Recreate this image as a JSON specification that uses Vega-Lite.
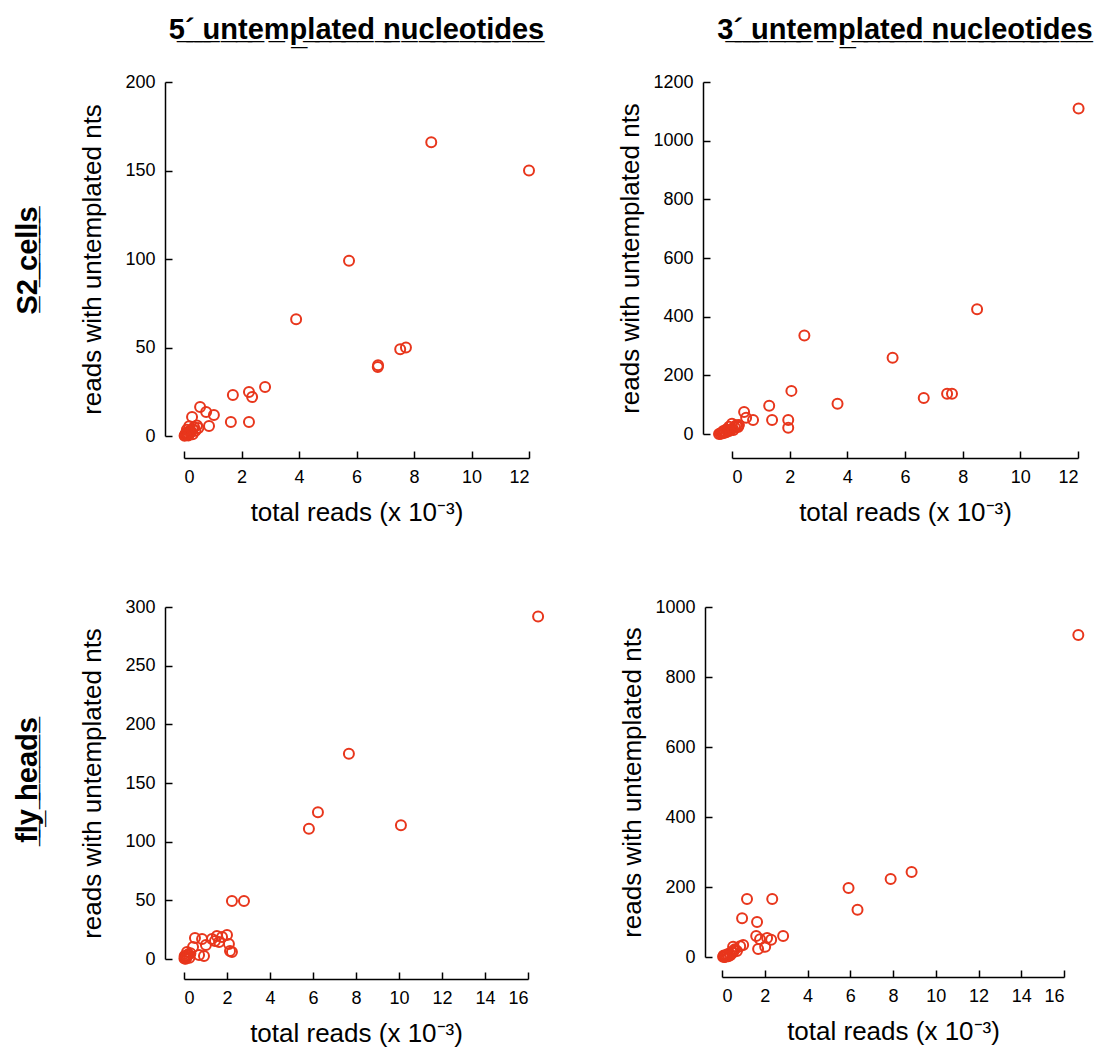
{
  "$schema": "https://vega.github.io/schema/vega-lite/v6.json",
  "background": "white",
  "padding": {"left": 14, "top": 16, "right": 5, "bottom": 5},
  "datasets": {
    "s2_5p": [
      {"total": 12.0, "untemplated": 150},
      {"total": 8.6, "untemplated": 166},
      {"total": 5.74, "untemplated": 99},
      {"total": 3.9, "untemplated": 66},
      {"total": 7.52, "untemplated": 49},
      {"total": 7.72, "untemplated": 50},
      {"total": 6.75, "untemplated": 40},
      {"total": 6.74, "untemplated": 39},
      {"total": 2.82, "untemplated": 27.7},
      {"total": 1.7, "untemplated": 23.2},
      {"total": 2.26, "untemplated": 24.9},
      {"total": 2.37, "untemplated": 22},
      {"total": 1.63, "untemplated": 7.9},
      {"total": 2.26, "untemplated": 7.9},
      {"total": 0.56, "untemplated": 16.4},
      {"total": 0.77, "untemplated": 13.6},
      {"total": 1.04, "untemplated": 11.9},
      {"total": 0.28, "untemplated": 10.7},
      {"total": 0.87, "untemplated": 5.6},
      {"total": 0.05, "untemplated": 0.5},
      {"total": 0.1, "untemplated": 1},
      {"total": 0.08, "untemplated": 2},
      {"total": 0.15, "untemplated": 1.5},
      {"total": 0.2, "untemplated": 3},
      {"total": 0.12, "untemplated": 0.8},
      {"total": 0.25, "untemplated": 2.5},
      {"total": 0.3, "untemplated": 4},
      {"total": 0.35, "untemplated": 5},
      {"total": 0.18, "untemplated": 5.5},
      {"total": 0.4, "untemplated": 3},
      {"total": 0.45, "untemplated": 6},
      {"total": 0.02, "untemplated": 0.2},
      {"total": 0.06, "untemplated": 1.2},
      {"total": 0.22, "untemplated": 1.8},
      {"total": 0.3, "untemplated": 1},
      {"total": 0.5, "untemplated": 4.5},
      {"total": 0.1, "untemplated": 3.5},
      {"total": 0.15, "untemplated": 0.3},
      {"total": 0.04, "untemplated": 0.6}
    ],
    "s2_3p": [
      {"total": 12.02, "untemplated": 1110},
      {"total": 8.5, "untemplated": 425},
      {"total": 5.57, "untemplated": 260},
      {"total": 2.51, "untemplated": 336},
      {"total": 3.66, "untemplated": 103},
      {"total": 6.65, "untemplated": 123},
      {"total": 7.46, "untemplated": 137},
      {"total": 7.63, "untemplated": 137},
      {"total": 2.06, "untemplated": 147},
      {"total": 1.29, "untemplated": 96},
      {"total": 1.39, "untemplated": 48},
      {"total": 1.95, "untemplated": 48},
      {"total": 1.95, "untemplated": 21},
      {"total": 0.42, "untemplated": 75},
      {"total": 0.49, "untemplated": 55},
      {"total": 0.73, "untemplated": 48},
      {"total": 0.21, "untemplated": 24},
      {"total": 0.24, "untemplated": 31},
      {"total": -0.45, "untemplated": 0},
      {"total": -0.4, "untemplated": 2},
      {"total": -0.35, "untemplated": 5},
      {"total": -0.3, "untemplated": 3},
      {"total": -0.25, "untemplated": 8},
      {"total": -0.2, "untemplated": 6},
      {"total": -0.15, "untemplated": 12},
      {"total": -0.1, "untemplated": 10},
      {"total": -0.05, "untemplated": 15},
      {"total": 0, "untemplated": 18},
      {"total": 0.05, "untemplated": 14},
      {"total": 0.1, "untemplated": 22},
      {"total": -0.3, "untemplated": 10},
      {"total": -0.2, "untemplated": 15},
      {"total": 0.15, "untemplated": 30},
      {"total": -0.1, "untemplated": 25},
      {"total": 0, "untemplated": 35},
      {"total": 0.2, "untemplated": 28},
      {"total": -0.38, "untemplated": 1},
      {"total": -0.28, "untemplated": 4}
    ],
    "fly_5p": [
      {"total": 16.47, "untemplated": 292},
      {"total": 7.67, "untemplated": 175},
      {"total": 6.23, "untemplated": 125},
      {"total": 5.81, "untemplated": 111},
      {"total": 10.09, "untemplated": 114},
      {"total": 2.23, "untemplated": 49.4},
      {"total": 2.79, "untemplated": 49.4},
      {"total": 0.51, "untemplated": 17.9},
      {"total": 0.84, "untemplated": 17},
      {"total": 1.02, "untemplated": 11.9},
      {"total": 0.7, "untemplated": 3.4},
      {"total": 0.93, "untemplated": 2.6},
      {"total": 1.53, "untemplated": 19.6},
      {"total": 1.77, "untemplated": 18.8},
      {"total": 2.0, "untemplated": 20.5},
      {"total": 1.63, "untemplated": 14.5},
      {"total": 2.09, "untemplated": 12.8},
      {"total": 2.14, "untemplated": 6.8},
      {"total": 2.23, "untemplated": 6},
      {"total": 0.14, "untemplated": 6},
      {"total": 0.42, "untemplated": 10.2},
      {"total": 1.3, "untemplated": 17},
      {"total": 1.44, "untemplated": 15.3},
      {"total": 0.02, "untemplated": 0.5},
      {"total": 0.05, "untemplated": 1},
      {"total": 0.1, "untemplated": 2},
      {"total": 0.08, "untemplated": 0.3},
      {"total": 0.15, "untemplated": 3},
      {"total": 0.12, "untemplated": 1.5},
      {"total": 0.2, "untemplated": 4},
      {"total": 0.03, "untemplated": 2.5},
      {"total": 0.25, "untemplated": 1},
      {"total": 0.3, "untemplated": 5}
    ],
    "fly_3p": [
      {"total": 16.67, "untemplated": 920},
      {"total": 8.87, "untemplated": 243},
      {"total": 7.89, "untemplated": 223},
      {"total": 5.92, "untemplated": 197},
      {"total": 6.34, "untemplated": 135},
      {"total": 1.17, "untemplated": 166},
      {"total": 2.35, "untemplated": 166},
      {"total": 0.94, "untemplated": 111},
      {"total": 1.64, "untemplated": 100},
      {"total": 1.6, "untemplated": 60},
      {"total": 2.86, "untemplated": 60},
      {"total": 1.78, "untemplated": 51},
      {"total": 2.11, "untemplated": 54},
      {"total": 2.3, "untemplated": 49},
      {"total": 1.69, "untemplated": 23},
      {"total": 2.02, "untemplated": 29},
      {"total": 0.85, "untemplated": 31},
      {"total": 0.99, "untemplated": 34},
      {"total": 0.52, "untemplated": 29},
      {"total": 0.7, "untemplated": 17},
      {"total": 0.05, "untemplated": 1},
      {"total": 0.1, "untemplated": 3},
      {"total": 0.15, "untemplated": 0.5},
      {"total": 0.2, "untemplated": 5},
      {"total": 0.25, "untemplated": 8},
      {"total": 0.3, "untemplated": 2},
      {"total": 0.35, "untemplated": 10},
      {"total": 0.4, "untemplated": 6},
      {"total": 0.45, "untemplated": 14},
      {"total": 0.5, "untemplated": 12},
      {"total": 0.55, "untemplated": 18},
      {"total": 0.6, "untemplated": 22},
      {"total": 0.08, "untemplated": 4},
      {"total": 0.12, "untemplated": 0.2},
      {"total": 0.18, "untemplated": 2}
    ]
  },
  "vconcat": [
    {
      "title": {"text": "S̲2̲ ̲c̲e̲l̲l̲s̲", "orient": "left", "offset": 36, "anchor": "middle", "dx": 10},
      "spacing": 72,
      "hconcat": [
        {
          "title": {"text": "5̲´̲ ̲u̲n̲t̲e̲m̲p̲l̲a̲t̲e̲d̲ ̲n̲u̲c̲l̲e̲o̲t̲i̲d̲e̲s̲", "frame": "group", "anchor": "middle", "offset": 28},
          "width": 345,
          "height": 354,
          "data": {"name": "s2_5p"},
          "mark": {"type": "point"},
          "encoding": {
            "x": {"field": "total", "type": "quantitative", "title": "total reads (x 10⁻³)",
                  "scale": {"domain": [0, 12], "nice": false, "zero": false},
                  "axis": {"values": [0, 2, 4, 6, 8, 10, 12], "offset": 22}},
            "y": {"field": "untemplated", "type": "quantitative", "title": "reads with untemplated nts",
                  "scale": {"domain": [0, 200], "nice": false},
                  "axis": {"values": [0, 50, 100, 150, 200], "offset": 19}}
          }
        },
        {
          "title": {"text": "3̲´̲ ̲u̲n̲t̲e̲m̲p̲l̲a̲t̲e̲d̲ ̲n̲u̲c̲l̲e̲o̲t̲i̲d̲e̲s̲", "frame": "group", "anchor": "middle", "offset": 28},
          "width": 346,
          "height": 352,
          "data": {"name": "s2_3p"},
          "mark": {"type": "point"},
          "encoding": {
            "x": {"field": "total", "type": "quantitative", "title": "total reads (x 10⁻³)",
                  "scale": {"domain": [0, 12], "nice": false, "zero": false},
                  "axis": {"values": [0, 2, 4, 6, 8, 10, 12], "offset": 24}},
            "y": {"field": "untemplated", "type": "quantitative", "title": "reads with untemplated nts",
                  "scale": {"domain": [0, 1200], "nice": false},
                  "axis": {"values": [0, 200, 400, 600, 800, 1000, 1200], "offset": 29}}
          }
        }
      ]
    },
    {
      "title": {"text": "f̲l̲y̲ ̲h̲e̲a̲d̲s̲", "orient": "left", "offset": 36, "anchor": "middle", "dx": 42},
      "spacing": 71,
      "hconcat": [
        {
          "width": 344,
          "height": 352,
          "data": {"name": "fly_5p"},
          "mark": {"type": "point"},
          "encoding": {
            "x": {"field": "total", "type": "quantitative", "title": "total reads (x 10⁻³)",
                  "scale": {"domain": [0, 16], "nice": false, "zero": false},
                  "axis": {"values": [0, 2, 4, 6, 8, 10, 12, 14, 16], "offset": 20}},
            "y": {"field": "untemplated", "type": "quantitative", "title": "reads with untemplated nts",
                  "scale": {"domain": [0, 300], "nice": false},
                  "axis": {"values": [0, 50, 100, 150, 200, 250, 300], "offset": 19}}
          }
        },
        {
          "width": 342,
          "height": 350,
          "data": {"name": "fly_3p"},
          "mark": {"type": "point"},
          "encoding": {
            "x": {"field": "total", "type": "quantitative", "title": "total reads (x 10⁻³)",
                  "scale": {"domain": [0, 16], "nice": false, "zero": false},
                  "axis": {"values": [0, 2, 4, 6, 8, 10, 12, 14, 16], "offset": 20}},
            "y": {"field": "untemplated", "type": "quantitative", "title": "reads with untemplated nts",
                  "scale": {"domain": [0, 1000], "nice": false},
                  "axis": {"values": [0, 200, 400, 600, 800, 1000], "offset": 17}}
          }
        }
      ]
    }
  ],
  "spacing": 73,
  "config": {
    "view": {"stroke": null},
    "font": "Liberation Sans",
    "title": {"font": "Liberation Sans", "fontSize": 29, "fontWeight": "bold", "color": "black"},
    "point": {"shape": "circle", "filled": false, "stroke": "#e8361c", "strokeWidth": 2, "size": 100, "opacity": 1},
    "axis": {
      "grid": false,
      "format": "d",
      "domainColor": "black",
      "domainWidth": 1.5,
      "tickColor": "black",
      "tickWidth": 1.5,
      "tickSize": -7,
      "labelFont": "Liberation Sans",
      "labelFontSize": 18,
      "labelColor": "black",
      "titleFont": "Liberation Sans",
      "titleFontSize": 26,
      "titleFontWeight": "normal",
      "titleColor": "black"
    },
    "axisX": {"labelPadding": 17, "titlePadding": 13},
    "axisY": {"labelPadding": 17, "titleX": -60, "titleBaseline": "bottom"}
  }
}
